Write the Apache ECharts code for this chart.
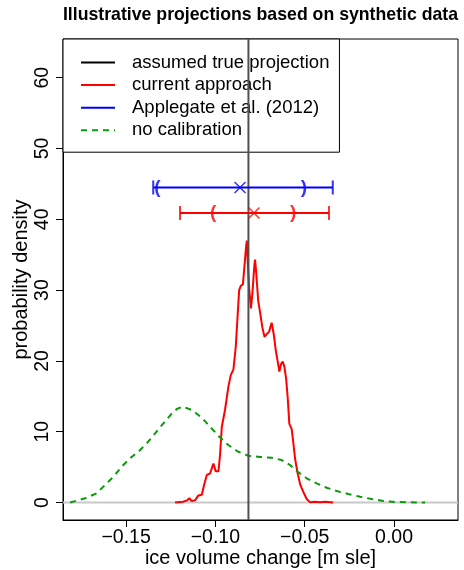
<!DOCTYPE html>
<html>
<head>
<meta charset="utf-8">
<script src="https://cdn.jsdelivr.net/npm/echarts@6/dist/echarts.min.js"></script>
<style>
html,body{margin:0;padding:0;background:#fff;}
#chart{width:464px;height:570px;}
</style>
</head>
<body>
<div id="chart"></div>
<script>
// ---------- data ----------
const chartTitle = 'Illustrative projections based on synthetic data';
const xTicks = [-0.15, -0.10, -0.05, 0.00];
const yTicks = [0, 10, 20, 30, 40, 50, 60];
const legendNames = ['assumed true projection', 'current approach', 'Applegate et al. (2012)', 'no calibration'];

const trueValue = -0.0815;

// current approach (red) density
const currentX = [-0.1226, -0.1181, -0.1159, -0.1146, -0.1132, -0.1114, -0.1095, -0.1076, -0.1063, -0.1048,
  -0.1030, -0.1011, -0.0998, -0.0983, -0.0974, -0.0964, -0.0946, -0.0927, -0.0914, -0.0899,
  -0.0886, -0.0877, -0.0867, -0.0858, -0.0846, -0.0839, -0.0828, -0.0824, -0.0819, -0.0811,
  -0.0801, -0.0792, -0.0782, -0.0778, -0.0772, -0.0760, -0.0750, -0.0737, -0.0725, -0.0712,
  -0.0700, -0.0685, -0.0673, -0.0662, -0.0651, -0.0642, -0.0632, -0.0623, -0.0614, -0.0604,
  -0.0595, -0.0586, -0.0573, -0.0564, -0.0554, -0.0541, -0.0526, -0.0508, -0.0489, -0.0470,
  -0.0442, -0.0414, -0.0386, -0.0341];
const currentY = [0.0, 0.1, 0.3, 0.6, 0.2, 0.3, 1.0, 1.1, 2.5, 3.9,
  4.1, 5.5, 4.4, 4.4, 6.7, 10.7, 13.1, 16.4, 18.0, 18.8,
  22.0, 25.8, 30.0, 30.6, 30.8, 32.9, 36.2, 37.0, 34.0, 30.3,
  27.4, 29.8, 33.5, 34.3, 32.6, 28.4, 26.9, 24.7, 23.4, 23.8,
  24.1, 25.4, 23.7, 21.5, 19.9, 18.5, 19.6, 19.9, 19.2, 17.5,
  14.7, 11.1, 10.4, 8.5, 6.2, 4.3, 2.6, 1.5, 0.5, 0.05,
  0.1, 0.05, 0.1, 0.0];

// no calibration (green dashed) density
const noCalX = [-0.1813, -0.1729, -0.1664, -0.1618, -0.1571, -0.1524, -0.1478, -0.1427, -0.1381, -0.1334,
  -0.1291, -0.1248, -0.1216, -0.1183, -0.1132, -0.1076, -0.1030, -0.0978, -0.0928, -0.0872,
  -0.0815, -0.0750, -0.0685, -0.0629, -0.0582, -0.0545, -0.0489, -0.0433, -0.0377, -0.0321,
  -0.0256, -0.0190, -0.0125, -0.0060, 0.0015, 0.0090, 0.0174];
const noCalY = [0.0, 0.59, 1.31, 2.47, 3.64, 5.06, 6.25, 7.28, 8.45, 9.86,
  11.19, 12.46, 13.21, 13.54, 13.07, 11.98, 10.71, 9.29, 8.12, 7.17,
  6.61, 6.43, 6.33, 6.00, 5.30, 4.45, 3.42, 2.71, 2.09, 1.62,
  1.20, 0.82, 0.49, 0.21, 0.07, 0.03, 0.0];

// interval summaries: outer bounds, inner bounds, central estimate, plotted height
const applegateOuter = [-0.1348, -0.0343];
const applegateInner = [-0.1325, -0.0504];
const applegateMid = -0.0862;
const applegateLevel = 44.5;

const currentOuter = [-0.1198, -0.0364];
const currentInner = [-0.1012, -0.0564];
const currentMid = -0.0784;
const currentLevel = 40.9;

// ---------- chart ----------
const FONT = 'Liberation Sans, Arial, Helvetica, sans-serif';
const RED = '#ff0000', BLUE = '#0000ff', GREEN = '#0a9a0a', TRUEC = '#505050';
const X_MIN = -0.1853, X_MAX = 0.0358, Y_MIN = -2.47, Y_MAX = 65.47;

function zip(a, b) { return a.map((v, i) => [v, b[i]]); }
function fmtX(v) { return Math.abs(v) < 1e-9 ? '0.00' : (v < 0 ? '\u2212' : '') + Math.abs(v).toFixed(2); }

function intervalSeries(outer, inner, mid, level, color, lname) {
  return [
    { type: 'line', name: lname, data: outer.map(x => [x, level]), symbol: 'none',
      lineStyle: { color: color, width: 2 }, itemStyle: { color: color }, z: 5, silent: true },
    { type: 'scatter', name: lname + ' caps', data: outer.map(x => [x, level]), symbol: 'rect',
      symbolSize: [2, 14], itemStyle: { color: color }, z: 6, silent: true },
    { type: 'scatter', name: lname + ' mid', data: [[mid, level]],
      symbol: 'path://M0,0L10,10M0,10L10,0', symbolSize: 11,
      itemStyle: { color: 'none', borderColor: color, borderWidth: 1.5 }, z: 6, silent: true },
    { type: 'scatter', name: lname + ' inner', data: inner.map(x => [x, level]), symbolSize: 0.1,
      itemStyle: { color: 'transparent' }, z: 6, silent: true,
      label: { show: true, position: 'inside', color: color, fontFamily: FONT, fontSize: 19, fontWeight: 'bold',
        formatter: p => (p.dataIndex === 0 ? '(' : ')') } }
  ];
}

const chart = echarts.init(document.getElementById('chart'), null, { renderer: 'canvas' });
const option = {
  animation: false,
  backgroundColor: '#ffffff',
  title: {
    text: chartTitle, left: 260.5, top: 6, textAlign: 'center', padding: 0,
    textStyle: { fontFamily: FONT, fontSize: 17.7, fontWeight: 'bold', color: '#000' }
  },
  grid: { left: 63, right: 6, top: 39, bottom: 50, show: true, borderColor: '#000', borderWidth: 1,
    backgroundColor: 'transparent', containLabel: false, outerBoundsMode: 'none' },
  legend: {
    data: [
      { name: legendNames[0], lineStyle: { color: '#000' } },
      { name: legendNames[1] },
      { name: legendNames[2] },
      { name: legendNames[3] }
    ],
    orient: 'vertical', left: 63, top: 39,
    itemWidth: 34, itemHeight: 14, itemGap: 3.6,
    padding: [14, 10, 12.4, 17],
    backgroundColor: '#fff', borderColor: '#000', borderWidth: 1, borderRadius: 0,
    selectedMode: false,
    itemStyle: { opacity: 0 },
    textStyle: { fontFamily: FONT, fontSize: 18.5, color: '#000', lineHeight: 14, padding: [0, 0, 0, 12] }
  },
  xAxis: {
    type: 'value', min: X_MIN, max: X_MAX,
    splitLine: { show: false },
    axisLine: { show: true, onZero: false, lineStyle: { color: '#000', width: 1 } },
    axisTick: { show: true, customValues: xTicks, length: 7, lineStyle: { color: '#000' } },
    axisLabel: { customValues: xTicks, formatter: fmtX, fontFamily: FONT, fontSize: 19.5, color: '#000', margin: 7.5 },
    name: 'ice volume change [m sle]', nameLocation: 'middle', nameGap: 28, nameMoveOverlap: false,
    nameTextStyle: { fontFamily: FONT, fontSize: 20, color: '#000' }
  },
  yAxis: {
    type: 'value', min: Y_MIN, max: Y_MAX,
    splitLine: { show: false },
    axisLine: { show: true, onZero: false, lineStyle: { color: '#000', width: 1 } },
    axisTick: { show: true, customValues: yTicks, length: 7, lineStyle: { color: '#000' } },
    axisLabel: { customValues: yTicks, rotate: 90, fontFamily: FONT, fontSize: 19.5, color: '#000', margin: 10 },
    name: 'probability density', nameLocation: 'middle', nameGap: 32, nameMoveOverlap: false,
    nameTextStyle: { fontFamily: FONT, fontSize: 20, color: '#000' }
  },
  series: [
    { type: 'line', name: 'zero', data: [[X_MIN, 0], [X_MAX, 0]], symbol: 'none',
      lineStyle: { color: '#c8c8c8', width: 2 }, z: 1, silent: true },
    { type: 'line', name: legendNames[0], data: [[trueValue, Y_MIN], [trueValue, Y_MAX]], symbol: 'none',
      lineStyle: { color: TRUEC, width: 2 }, itemStyle: { color: TRUEC }, z: 4, silent: true },
    { type: 'line', name: legendNames[1], data: zip(currentX, currentY), symbol: 'none',
      lineStyle: { color: RED, width: 2 }, itemStyle: { color: RED }, z: 3, silent: true },
    { type: 'line', name: legendNames[3], data: zip(noCalX, noCalY), symbol: 'none',
      lineStyle: { color: GREEN, width: 2, type: [6, 5] }, itemStyle: { color: GREEN }, z: 3, silent: true },
    ...intervalSeries(applegateOuter, applegateInner, applegateMid, applegateLevel, BLUE, legendNames[2]),
    ...intervalSeries(currentOuter, currentInner, currentMid, currentLevel, RED, 'current interval')
  ]
};
chart.setOption(option);
</script>
</body>
</html>
